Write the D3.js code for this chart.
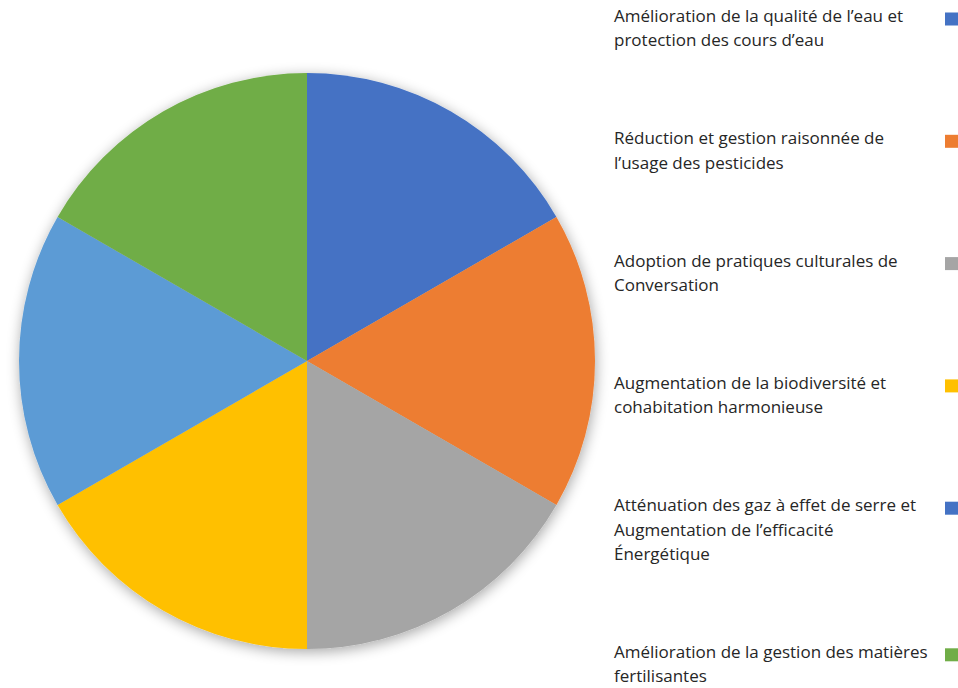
<!DOCTYPE html>
<html>
<head>
<meta charset="utf-8">
<script src="https://cdn.jsdelivr.net/npm/d3@7"></script>
<style>
  html, body { margin: 0; padding: 0; background: #fff; }
  svg { display: block; }
</style>
</head>
<body>
<svg id="chart" width="958" height="688"></svg>
<script>
// categories (legend order = clockwise from 12 o'clock)
const categories = [
  ["Amélioration de la qualité de l’eau et", "protection des cours d’eau"],
  ["Réduction et gestion raisonnée de", "l’usage des pesticides"],
  ["Adoption de pratiques culturales de", "Conversation"],
  ["Augmentation de la biodiversité et", "cohabitation harmonieuse"],
  ["Atténuation des gaz à effet de serre et", "Augmentation de l’efficacité", "Énergétique"],
  ["Amélioration de la gestion des matières", "fertilisantes"]
];
// equal shares
const values = [1, 1, 1, 1, 1, 1];
const colors = ["#4472C4", "#ED7D31", "#A5A5A5", "#FFC000", "#5B9BD5", "#70AD47"];
// the source legend shows the dark blue swatch for the 5th item too
const markerColors = ["#4472C4", "#ED7D31", "#A5A5A5", "#FFC000", "#4472C4", "#70AD47"];

const svg = d3.select("#chart");
const cx = 307, cy = 361, radius = 288;

// soft shadow around the pie
const defs = svg.append("defs");
const filter = defs.append("filter")
  .attr("id", "pieShadow")
  .attr("x", "-20%").attr("y", "-20%")
  .attr("width", "140%").attr("height", "140%");
filter.append("feGaussianBlur")
  .attr("in", "SourceAlpha")
  .attr("stdDeviation", 7)
  .attr("result", "blur");
filter.append("feOffset")
  .attr("in", "blur").attr("dx", 1).attr("dy", 3)
  .attr("result", "offsetBlur");
filter.append("feComponentTransfer")
  .attr("in", "offsetBlur").attr("result", "shadow")
  .append("feFuncA").attr("type", "linear").attr("slope", 0.35);
const merge = filter.append("feMerge");
merge.append("feMergeNode").attr("in", "shadow");
merge.append("feMergeNode").attr("in", "SourceGraphic");

const pie = d3.pie().sort(null).value((d) => d);
const arc = d3.arc().innerRadius(0).outerRadius(radius);

const g = svg.append("g")
  .attr("transform", `translate(${cx},${cy})`)
  .attr("filter", "url(#pieShadow)");

g.selectAll("path")
  .data(pie(values))
  .join("path")
  .attr("d", arc)
  .attr("fill", (d, i) => colors[i]);

// legend
const legendX = 614, markerX = 945, markerSize = 13;
const lineH = 24.3, gapAfter = 98;
const legend = svg.append("g")
  .style("font-family", "'Open Sans', sans-serif")
  .style("font-size", "17px")
  .style("fill", "#262626");

let y = 16.5;
categories.forEach((lines, i) => {
  const item = legend.append("g");
  lines.forEach((t, k) => {
    item.append("text")
      .attr("x", legendX)
      .attr("y", y + k * lineH)
      .attr("dy", "0.33em")
      .text(t);
  });
  item.append("rect")
    .attr("x", markerX)
    .attr("y", y - 4)
    .attr("width", markerSize)
    .attr("height", markerSize)
    .attr("fill", markerColors[i]);
  y += (lines.length - 1) * lineH + gapAfter;
});
</script>
</body>
</html>
